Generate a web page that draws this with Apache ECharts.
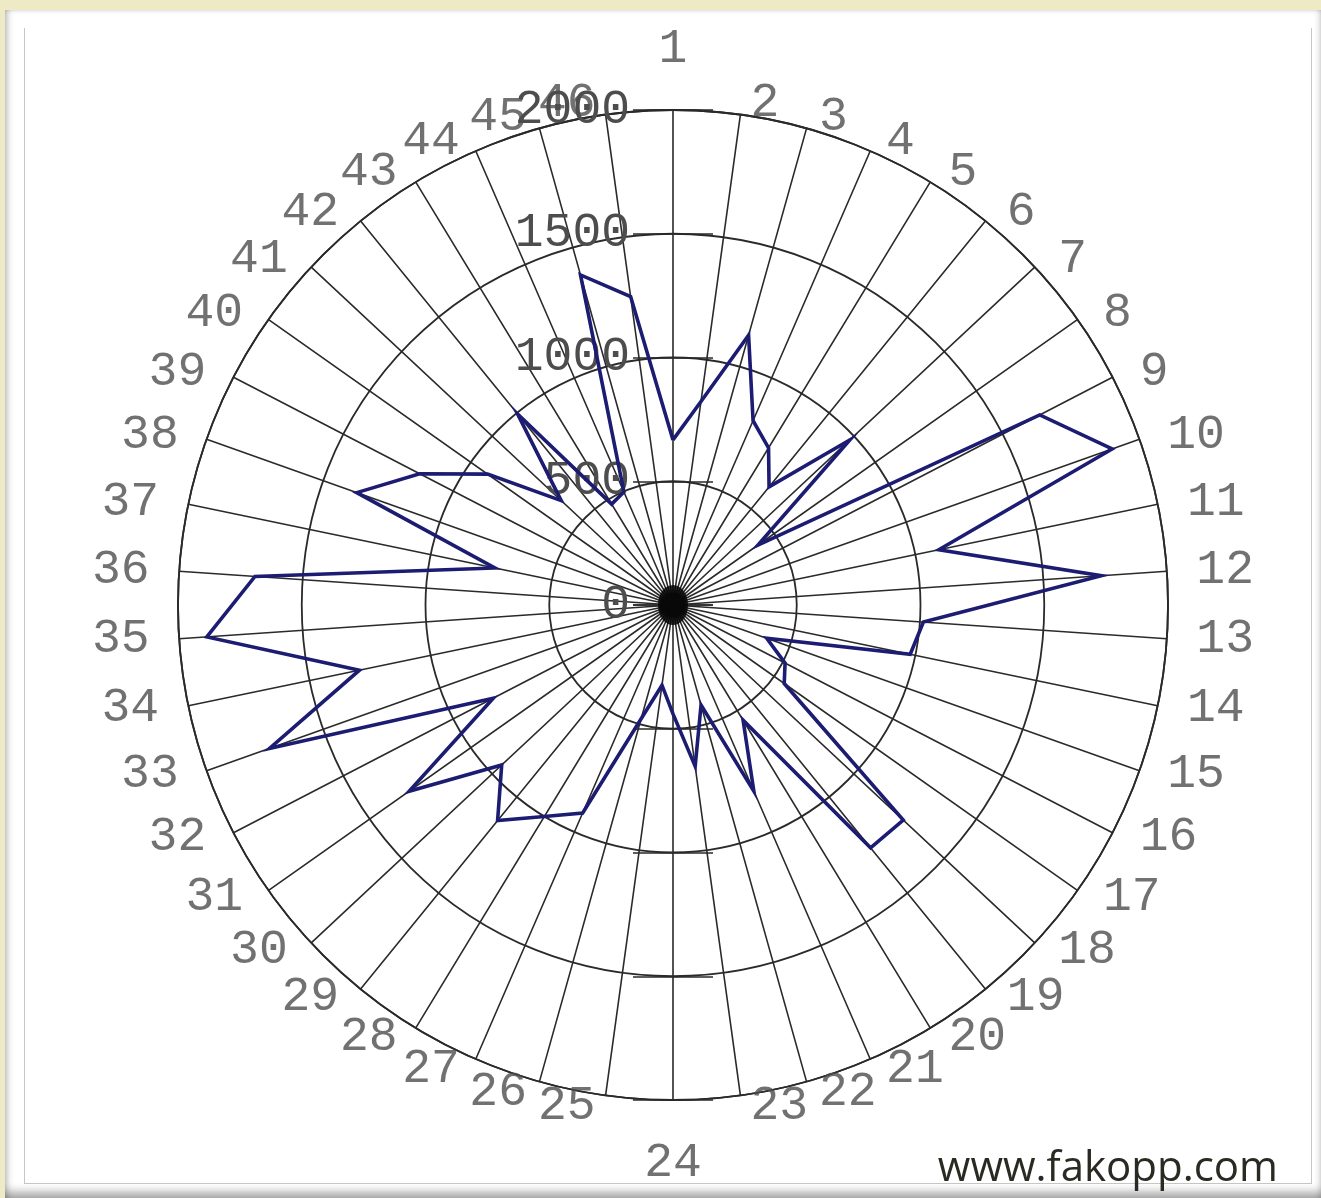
<!DOCTYPE html>
<html><head><meta charset="utf-8">
<script src="https://cdn.jsdelivr.net/npm/echarts@6/dist/echarts.min.js"></script>
<style>
html,body{margin:0;padding:0;width:1321px;height:1198px;overflow:hidden;background:#efeac6;}
#panel{position:absolute;left:5px;top:10px;width:1316px;height:1188px;background:#fff;
 box-shadow: inset 7px 0 7px -5px rgba(0,0,0,0.28), inset 0 -12px 10px -6px rgba(0,0,0,0.35), inset -6px 0 6px -5px rgba(0,0,0,0.2), inset 0 4px 4px -3px rgba(0,0,0,0.12);}
#frame{position:absolute;left:24px;top:28px;width:1286px;height:1155px;border:1px solid #c6c6c6;border-top:none;}
#c{position:absolute;left:0;top:0;width:1321px;height:1198px;}
</style></head><body>
<div id="panel"></div><div id="frame"></div><div id="c"></div>
<script>
const categories = ['1','2','3','4','5','6','7','8','9','10','11','12','13','14','15','16','17','18','19','20','21','22','23','24','25','26','27','28','29','30','31','32','33','34','35','36','37','38','39','40','41','42','43','44','45','46'];
const values = [667, 830, 1132, 812, 743, 615, 977, 420, 1669, 1883, 1097, 1735, 1014, 979, 402, 510, 550, 1273, 1265, 545, 820, 420, 658, 440, 327, 477, 916, 1000, 1123, 947, 1305, 818, 1730, 1294, 1888, 1693, 735, 1356, 1153, 917, 618, 995, 477, 498, 1385, 1258];
const radiusTicks = [0, 500, 1000, 1500, 2000];

const CENTER = [673, 605];
const R = 495;
const LABEL_R = 506;
const TICK = 40;
const gridColor = '#2a2a2a';
const lineColor = '#1c1c72';
const labelFont = 'Liberation Mono';
const labelColor = '#4d4d4d';
const fontSize = 48;
const n = categories.length;

const chart = echarts.init(document.getElementById('c'), null, {renderer: 'canvas'});

function angleAxis(idx, start, show) {
  return {polarIndex: idx, type: 'value', min: 0, max: n, interval: 1, startAngle: start, clockwise: true,
    axisLine: {show: show, lineStyle: {color: gridColor, width: 1.8}},
    axisTick: {show: false}, axisLabel: {show: false},
    splitLine: {show: show, lineStyle: {color: gridColor, width: 1.6}}};
}
function tickRadius(idx) {
  return {polarIndex: idx, type: 'value', min: radiusTicks[0], max: radiusTicks[radiusTicks.length - 1],
    interval: radiusTicks[1] - radiusTicks[0], axisLine: {show: false}, axisLabel: {show: false}, splitLine: {show: false},
    axisTick: {show: true, length: 2 * TICK, lineStyle: {color: gridColor, width: 1.6}}};
}

// label placement style: left/right of each spoke end, a little further out at the sides
const labelData = categories.map((c, i) => {
  const s = Math.abs(Math.sin(i / n * 2 * Math.PI));
  let pos, dist = Math.round(6 + 12 * s);
  if (i === 0) { pos = 'top'; dist = 25; }
  else if (i === n / 2) { pos = 'bottom'; dist = 28; }
  else if (i < n / 2) pos = 'right';
  else pos = 'left';
  return {name: c, value: [1, i], label: {position: pos, distance: dist}};
});

const polyData = values.map((v, i) => [v, i]).concat([[values[0], n]]);

const option = {
  animation: false,
  polar: [
    {center: CENTER, radius: R},
    {center: [CENTER[0] + TICK, CENTER[1]], radius: R},
    {center: [CENTER[0] - TICK, CENTER[1]], radius: R},
    {center: CENTER, radius: LABEL_R}
  ],
  angleAxis: [angleAxis(0, 90, true), angleAxis(1, 90, false), angleAxis(2, 270, false), angleAxis(3, 90, false)],
  radiusAxis: [
    {polarIndex: 0, type: 'value', min: radiusTicks[0], max: radiusTicks[radiusTicks.length - 1],
      interval: radiusTicks[1] - radiusTicks[0],
      axisLine: {show: false},
      axisTick: {show: false},
      splitLine: {show: true, lineStyle: {color: gridColor, width: 1.8}},
      axisLabel: {show: true, margin: 43, fontFamily: labelFont, fontSize: fontSize, color: labelColor,
        formatter: v => String(v)}},
    tickRadius(1), tickRadius(2),
    {polarIndex: 3, type: 'value', min: 0, max: 1, show: false}
  ],
  series: [
    {type: 'line', coordinateSystem: 'polar', polarIndex: 0, symbol: 'none', z: 5, clip: false,
      lineStyle: {color: lineColor, width: 3.6, join: 'miter'},
      data: polyData},
    {type: 'scatter', coordinateSystem: 'polar', polarIndex: 0, symbol: 'circle', symbolSize: [30, 40], z: 6,
      itemStyle: {color: '#000'}, data: [[radiusTicks[0], 0]]},
    {type: 'scatter', coordinateSystem: 'polar', polarIndex: 3, symbolSize: 1, silent: true,
      itemStyle: {color: 'rgba(0,0,0,0)'},
      label: {show: true, formatter: '{b}', fontFamily: labelFont, fontSize: fontSize, color: labelColor},
      data: labelData}
  ],
  graphic: [
    {type: 'text', z: 10, style: {x: 1278, y: 1190, text: 'www.fakopp.com', align: 'right', verticalAlign: 'bottom',
      font: '42px "Open Sans"', fill: '#2b2a22'}}
  ]
};
chart.setOption(option);
</script>
</body></html>
